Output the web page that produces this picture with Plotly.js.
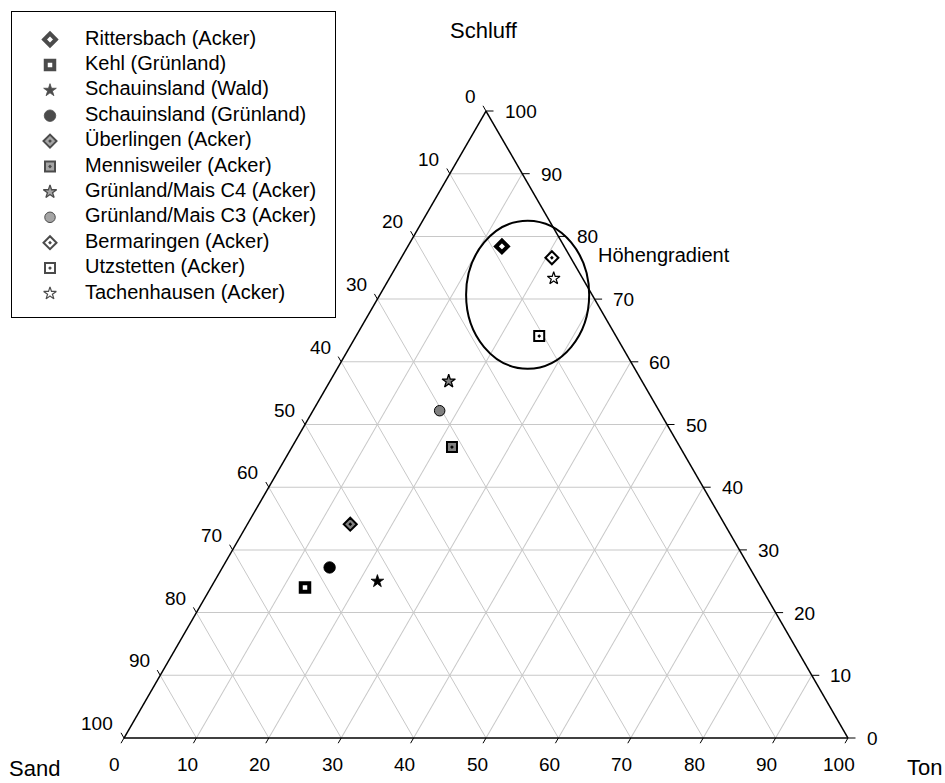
<!DOCTYPE html>
<html>
<head>
<meta charset="utf-8">
<script src="https://cdn.plot.ly/plotly-3.0.1.min.js"></script>
<style>
  html, body { margin: 0; padding: 0; background: #fff; }
  #chart { width: 945px; height: 783px; }
</style>
</head>
<body>
<div id="chart"></div>
<script>
// Soil texture of the sampled sites, percent by mass
const sites = [
  'Rittersbach (Acker)', 'Kehl (Grünland)', 'Schauinsland (Wald)', 'Schauinsland (Grünland)',
  'Überlingen (Acker)', 'Mennisweiler (Acker)', 'Grünland/Mais C4 (Acker)', 'Grünland/Mais C3 (Acker)',
  'Bermaringen (Acker)', 'Utzstetten (Acker)', 'Tachenhausen (Acker)'
];
const schluff = [78.4, 24.0, 25.0, 27.2, 34.1, 46.4, 56.9, 52.2, 76.6, 64.1, 73.3];
const sand    = [ 8.6, 63.0, 52.5, 58.0, 51.7, 31.5, 26.7, 30.3,  2.6, 10.6,  4.0];
const ton     = [13.0, 13.0, 22.5, 14.8, 14.2, 22.1, 16.4, 17.5, 20.8, 25.3, 22.7];

// tick values shared by the three edges
const tickValues = [0, 10, 20, 30, 40, 50, 60, 70, 80, 90, 100];

// marker style per site
const symbols = ['diamond', 'square', 'star', 'circle', 'diamond-dot', 'square-dot',
                 'star', 'circle', 'diamond-dot', 'square-dot', 'star'];
const fills = ['#ffffff', '#ffffff', '#000000', '#000000', '#808080', '#808080',
               '#808080', '#808080', '#ffffff', '#ffffff', '#ffffff'];
const edgeWidths = [4, 4, 0.8, 0.8, 2, 2, 1.3, 1, 2, 2, 1.2];
const sizes = [9, 8.5, 9.5, 11.5, 10, 10, 10, 10.5, 10, 10, 9.5];

const W = 945, H = 783;
const FONT = 'Arial, "Liberation Sans", Helvetica, sans-serif';

// ternary placement
const triDomainX = [124 / W, 848 / W];
const triDomainY = [0.0364, 0.8793];
const side = (triDomainX[1] - triDomainX[0]) * W;      // px for 100 %
const unit = side / 100;                               // px per percentage point
const triH = side * Math.sqrt(3) / 2;
const triX0 = triDomainX[0] * W;
const triY0 = H * (1 - (triDomainY[0] + triDomainY[1]) / 2) - triH / 2;

// composition [schluff, sand, ton] -> pixel position
function toPx(p) {
  return [triX0 + unit * (p[2] + p[0] / 2), triY0 + triH - triH * p[0] / 100];
}
// pixel position (+ offset) -> paper coordinates
function paper(px, dx, dy) {
  return [(px[0] + (dx || 0)) / W, 1 - (px[1] + (dy || 0)) / H];
}

// tick marks point along the grid lines, labels sit beyond them
const tickShapes = [];
const tickLabels = [];
function addTick(p, dx, dy) {
  const a = paper(toPx(p)), b = paper(toPx(p), dx, dy);
  tickShapes.push({
    type: 'line', xref: 'paper', yref: 'paper', x0: a[0], y0: a[1], x1: b[0], y1: b[1],
    line: { color: '#000', width: 1 }
  });
}
function addLabel(p, dx, dy, xanchor, txt) {
  const q = paper(toPx(p), dx, dy);
  tickLabels.push({
    text: txt, x: q[0], y: q[1], xref: 'paper', yref: 'paper', xanchor: xanchor, yanchor: 'middle',
    showarrow: false, font: { family: FONT, size: 19, color: '#000' }
  });
}
tickValues.forEach(v => {
  const onLeft = [100 - v, v, 0];     // sand scale
  const onBottom = [0, 100 - v, v];   // ton scale
  const onRight = [v, 0, 100 - v];    // schluff scale
  addTick(onLeft, -3, -5.2);
  addTick(onBottom, -3, 5.2);
  addTick(onRight, 7.5, 0);
  addLabel(onLeft, -8.5, -14.5, 'right', String(v));
  addLabel(onBottom, -9, 26.5, 'center', String(v));
  addLabel(onRight, 16.5, 0.5, 'left', String(v));
});

const traces = [];

// one trace per site
sites.forEach((name, i) => {
  traces.push({
    type: 'scatterternary', mode: 'markers', name: name,
    a: [schluff[i]], b: [sand[i]], c: [ton[i]],
    marker: {
      symbol: symbols[i], size: sizes[i], color: fills[i],
      line: { color: '#000', width: edgeWidths[i] }
    },
    showlegend: false
  });
});

// key in the upper left corner
const legendBox = { left: 12, top: 12, right: 335, bottom: 317 };
const keyMarkerX = 50, keyTextX = 85, keyFirstRow = 39.5, keyRowStep = 25.4;
const keyUnit = keyTextX - keyMarkerX;
const keyRows = sites.map((_, i) => i);
traces.push({
  type: 'scatter', mode: 'markers', xaxis: 'x', yaxis: 'y',
  x: sites.map(() => 0), y: keyRows,
  marker: {
    symbol: symbols, size: sizes, color: fills,
    line: { color: '#000', width: edgeWidths }
  },
  hoverinfo: 'skip', showlegend: false
});
traces.push({
  type: 'scatter', mode: 'text', xaxis: 'x', yaxis: 'y',
  x: sites.map(() => 1), y: keyRows, text: sites, textposition: 'middle right',
  textfont: { family: FONT, size: 20, color: '#000' },
  hoverinfo: 'skip', showlegend: false
});

const hiddenAxis = {
  showgrid: false, zeroline: false, showticklabels: false, ticks: '',
  showline: true, mirror: true, linecolor: '#000', linewidth: 1, fixedrange: true
};

const ternAxis = {
  min: 0, showline: true, linecolor: '#000', linewidth: 1.5,
  showgrid: true, gridcolor: '#c8c8c8', gridwidth: 1,
  tickmode: 'linear', tick0: 0, dtick: 10, ticks: '', showticklabels: false,
  title: { text: '' }
};

// ellipse around the altitude-gradient sites
const ellC = toPx([70.7, 8.9, 20.4]);
const ellRx = 8.5 * unit, ellRy = 11.8 * unit * Math.sqrt(3) / 2;
const e0 = paper(ellC, -ellRx, ellRy), e1 = paper(ellC, ellRx, -ellRy);
const hgPos = paper(toPx([77.1, -3.7, 26.6]));

const topV = toPx([100, 0, 0]), leftV = toPx([0, 100, 0]), rightV = toPx([0, 0, 100]);
const tSchluff = paper(topV, -2, -81);
const tSand = paper(leftV, -89, 30);
const tTon = paper(rightV, 76, 29);

const titleFont = { family: FONT, size: 22, color: '#000' };

const layout = {
  width: W, height: H,
  margin: { l: 0, r: 0, t: 0, b: 0, autoexpand: false },
  paper_bgcolor: '#fff', plot_bgcolor: 'rgba(0,0,0,0)',
  showlegend: false, hovermode: false,
  font: { family: FONT, size: 19, color: '#000' },
  ternary: {
    domain: { x: triDomainX, y: triDomainY },
    sum: 100, bgcolor: '#fff',
    aaxis: ternAxis, baxis: ternAxis, caxis: ternAxis
  },
  xaxis: Object.assign({}, hiddenAxis, {
    domain: [legendBox.left / W, legendBox.right / W],
    range: [-(keyMarkerX - legendBox.left) / keyUnit,
            -(keyMarkerX - legendBox.left) / keyUnit + (legendBox.right - legendBox.left) / keyUnit]
  }),
  yaxis: Object.assign({}, hiddenAxis, {
    domain: [1 - legendBox.bottom / H, 1 - legendBox.top / H],
    range: [(legendBox.bottom - keyFirstRow) / keyRowStep, -(keyFirstRow - legendBox.top) / keyRowStep]
  }),
  shapes: tickShapes.concat([{
    type: 'circle', xref: 'paper', yref: 'paper',
    x0: e0[0], x1: e1[0], y0: e0[1], y1: e1[1],
    line: { color: '#000', width: 2 }
  }]),
  annotations: tickLabels.concat([
    { text: 'Höhengradient', x: hgPos[0], y: hgPos[1], xref: 'paper', yref: 'paper',
      xanchor: 'left', yanchor: 'middle', showarrow: false, font: { family: FONT, size: 20, color: '#000' } },
    { text: 'Schluff', x: tSchluff[0], y: tSchluff[1], xref: 'paper', yref: 'paper',
      xanchor: 'center', yanchor: 'middle', showarrow: false, font: titleFont },
    { text: 'Sand', x: tSand[0], y: tSand[1], xref: 'paper', yref: 'paper',
      xanchor: 'center', yanchor: 'middle', showarrow: false, font: titleFont },
    { text: 'Ton', x: tTon[0], y: tTon[1], xref: 'paper', yref: 'paper',
      xanchor: 'center', yanchor: 'middle', showarrow: false, font: titleFont }
  ])
};

Plotly.newPlot('chart', traces, layout, { displayModeBar: false, staticPlot: true });
</script>
</body>
</html>
